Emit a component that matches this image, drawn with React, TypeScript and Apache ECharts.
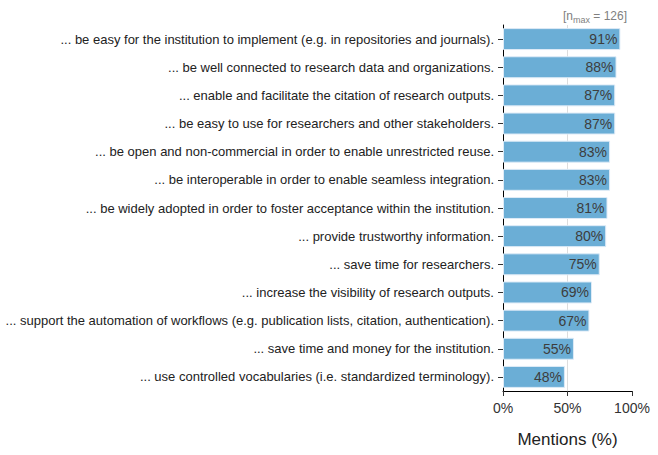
import React, { useEffect, useRef } from "react";
import * as echarts from "echarts";

const categories = [
  "... be easy for the institution to implement (e.g. in repositories and journals).",
  "... be well connected to research data and organizations.",
  "... enable and facilitate the citation of research outputs.",
  "... be easy to use for researchers and other stakeholders.",
  "... be open and non-commercial in order to enable unrestricted reuse.",
  "... be interoperable in order to enable seamless integration.",
  "... be widely adopted in order to foster acceptance within the institution.",
  "... provide trustworthy information.",
  "... save time for researchers.",
  "... increase the visibility of research outputs.",
  "... support the automation of workflows (e.g. publication lists, citation, authentication).",
  "... save time and money for the institution.",
  "... use controlled vocabularies (i.e. standardized terminology).",
];
const values = [91, 88, 87, 87, 83, 83, 81, 80, 75, 69, 67, 55, 48];
const xTicks = [0, 50, 100];
const nMax = 126;

export default function App() {
  const ref = useRef<HTMLDivElement>(null);
  useEffect(() => {
    if (!ref.current) return;
    const chart = echarts.init(ref.current, null, { renderer: "svg" });
    const font = "Liberation Sans, Arial, sans-serif";
    chart.setOption({
      animation: false,
      textStyle: { fontFamily: font },
      grid: { left: 503, right: 26, top: 25, bottom: 64, containLabel: false },
      title: {
        text: "{a|[n}{s|max}{a| = " + nMax + "]}",
        right: 26,
        top: 2,
        textStyle: {
          fontWeight: "normal",
          rich: {
            a: { fontSize: 12, color: "#808080", fontFamily: font, fontWeight: "normal" },
            s: { fontSize: 9, color: "#808080", fontFamily: font, fontWeight: "normal", padding: [8, 0, 0, 0] },
          },
        },
      },
      xAxis: {
        type: "value",
        min: xTicks[0],
        max: xTicks[xTicks.length - 1],
        interval: 50,
        name: "Mentions (%)",
        nameLocation: "middle",
        nameGap: 40,
        nameTextStyle: { fontSize: 17, color: "#222", fontFamily: font },
        axisLine: { show: true, lineStyle: { color: "#000", width: 1 } },
        axisTick: { show: true, length: 5, lineStyle: { color: "#333" } },
        axisLabel: {
          fontSize: 14,
          color: "#333",
          margin: 10,
          formatter: (v: number) => v + "%",
        },
        splitLine: {
          show: true,
          lineStyle: { color: ["rgba(0,0,0,0)", "#dddddd", "rgba(0,0,0,0)"], width: 1 },
        },
      },
      yAxis: {
        type: "category",
        data: categories,
        inverse: true,
        axisLine: { show: true, lineStyle: { color: "#000", width: 1 } },
        axisTick: { show: true, length: 5, alignWithLabel: true, lineStyle: { color: "#333" } },
        axisLabel: { fontSize: 13, color: "#222", margin: 9, fontFamily: font },
      },
      series: [
        {
          type: "bar",
          data: values,
          barCategoryGap: "22%",
          itemStyle: { color: "#6baed6", borderColor: "#deebf7", borderWidth: 1 },
          label: {
            show: true,
            position: "insideRight",
            distance: 3,
            formatter: (p: any) => p.value + "%",
            fontSize: 14,
            color: "#3d3d3d",
            fontFamily: font,
          },
        },
      ],
    });
    return () => chart.dispose();
  }, []);
  return <div ref={ref} style={{ width: 658, height: 455, position: "absolute", left: 0, top: 0 }} />;
}
